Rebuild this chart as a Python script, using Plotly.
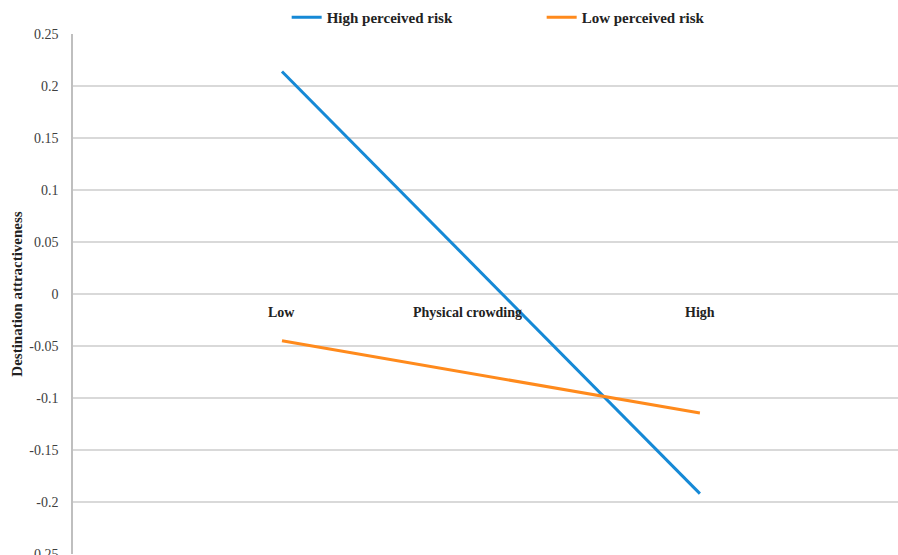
import plotly.graph_objects as go

categories = ["Low", "High"]
high_risk = [0.214, -0.192]
low_risk = [-0.045, -0.1145]
series_names = ["High perceived risk", "Low perceived risk"]
y_tickvals = [0.25, 0.2, 0.15, 0.1, 0.05, 0, -0.05, -0.1, -0.15, -0.2, -0.25]
y_ticktext = ["0.25", "0.2", "0.15", "0.1", "0.05", "0", "-0.05", "-0.1", "-0.15", "-0.2", "-0.25"]
x_title = "Physical crowding"
y_title = "Destination attractiveness"

SERIF = "Liberation Serif, Times New Roman, serif"
BLUE = "#1589D6"
ORANGE = "#FF8A1C"

fig = go.Figure()
fig.add_trace(go.Scatter(x=[0, 1], y=high_risk, mode="lines", name=series_names[0],
                         line=dict(color=BLUE, width=3)))
fig.add_trace(go.Scatter(x=[0, 1], y=low_risk, mode="lines", name=series_names[1],
                         line=dict(color=ORANGE, width=3)))

for i, c in enumerate(categories):
    fig.add_annotation(x=i, y=-0.0175, xref="x", yref="y", text=f"<b>{c}</b>",
                       showarrow=False, font=dict(family=SERIF, size=14, color="#222"))
fig.add_annotation(x=0.443, y=-0.0175, xref="x", yref="y", text=f"<b>{x_title}</b>",
                   showarrow=False, font=dict(family=SERIF, size=14, color="#222"))

fig.update_layout(
    width=898, height=555,
    margin=dict(l=73, r=0, t=34, b=1, autoexpand=False),
    plot_bgcolor="white", paper_bgcolor="white",
    font=dict(family=SERIF, size=14, color="#404040"),
    showlegend=True,
    legend=dict(orientation="h", x=0.259, y=1.0, xanchor="left", yanchor="bottom",
                entrywidth=210, entrywidthmode="pixels", itemwidth=30,
                font=dict(family=SERIF, size=15, color="#222", weight="bold"),
                bgcolor="rgba(0,0,0,0)", tracegroupgap=0),
    xaxis=dict(range=[-0.5, 1.474], showgrid=False, zeroline=False, showline=False,
               showticklabels=False, fixedrange=True),
    yaxis=dict(range=[-0.25, 0.25], tickvals=y_tickvals, ticktext=y_ticktext,
               showgrid=True, gridcolor="#D9D9D9", gridwidth=1.5,
               zeroline=True, zerolinecolor="#D9D9D9", zerolinewidth=1.5,
               showline=True, linecolor="#BFBFBF", linewidth=1.5,
               ticks="", ticklabelstandoff=10, ticklabeloverflow="allow",
               tickfont=dict(family=SERIF, size=14, color="#404040"),
               title=dict(text=f"<b>{y_title}</b>", standoff=3,
                          font=dict(family=SERIF, size=15, color="#222")),
               automargin=False, fixedrange=True),
)

fig.write_html("out.html", config={"displayModeBar": False},
               post_script="document.body.style.margin='0';document.body.style.overflow='hidden';")
